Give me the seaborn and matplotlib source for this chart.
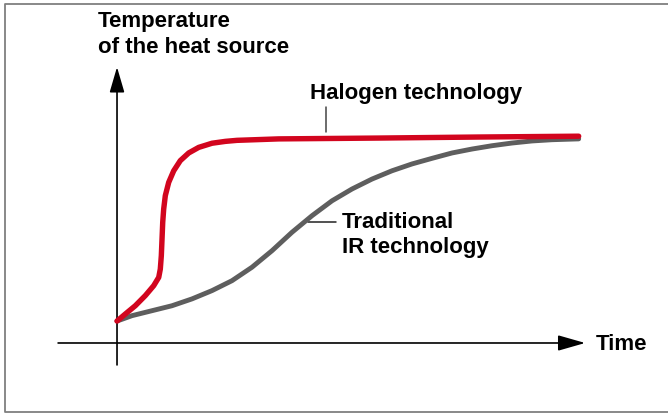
import matplotlib
matplotlib.use("Agg")
import matplotlib.pyplot as plt
from matplotlib.lines import Line2D
import seaborn as sns
import pandas as pd

# ---- data (schematic units: time 0-10, temperature 0-100)
halogen_time = [0, 0.179, 0.394, 0.610, 0.791, 0.899, 0.933, 0.955, 0.970, 0.985,
                1.006, 1.041, 1.114, 1.222, 1.364, 1.545, 1.761, 2.047, 2.334,
                2.586, 3.485, 5.640, 7.795, 9.95]
halogen_temp = [10.6, 14.0, 18.0, 22.9, 27.7, 31.7, 35.7, 42.2, 50.2, 58.3,
                64.7, 71.2, 77.6, 83.2, 88.1, 91.8, 94.5, 96.5, 97.4,
                97.9, 98.6, 99.0, 99.5, 99.9]
ir_time = [0, 0.323, 0.754, 1.185, 1.616, 2.047, 2.478, 2.909, 3.341, 3.772,
           4.203, 4.634, 5.065, 5.496, 5.927, 6.358, 6.789, 7.220, 7.651, 8.082,
           8.513, 8.944, 9.375, 9.950]
ir_temp = [10.6, 13.2, 15.6, 18.0, 21.3, 25.3, 30.1, 36.6, 44.6, 53.5,
           61.5, 68.7, 74.4, 79.2, 83.2, 86.5, 89.2, 91.8, 93.7, 95.3,
           96.6, 97.6, 98.2, 98.6]

y_label_lines = ["Temperature", "of the heat source"]
x_label = "Time"
halogen_label = "Halogen technology"
ir_label_lines = ["Traditional", "IR technology"]

RED = "#d2051e"
GRAY = "#5e5e5e"

sns.set_theme(style="white")
plt.rcParams["font.family"] = ["Liberation Sans", "DejaVu Sans"]

fig = plt.figure(figsize=(6.68, 4.14), dpi=100)
ax = fig.add_axes([0, 0, 1, 1])
ax.set_axis_off()
ax.set_xlim(-2.522, 11.875)
ax.set_ylim(-33.82, 166.18)

df_h = pd.DataFrame({"t": halogen_time, "T": halogen_temp})
df_i = pd.DataFrame({"t": ir_time, "T": ir_temp})

sns.lineplot(data=df_i, x="t", y="T", ax=ax, color=GRAY, lw=3.5, sort=False,
             solid_capstyle="round", solid_joinstyle="round", zorder=3)
sns.lineplot(data=df_h, x="t", y="T", ax=ax, color=RED, lw=3.9, sort=False,
             solid_capstyle="round", solid_joinstyle="round", zorder=4)

# axes arrows
ax.annotate("", xy=(10.09, 0), xytext=(-1.27, 0),
            arrowprops=dict(arrowstyle="-|>,head_length=1.4,head_width=0.4",
                            color="black", lw=1.2, shrinkA=0, shrinkB=0))
ax.annotate("", xy=(0, 133.3), xytext=(0, -10.6),
            arrowprops=dict(arrowstyle="-|>,head_length=1.3,head_width=0.38",
                            color="black", lw=1.2, shrinkA=0, shrinkB=0))

fs = 16
txt = dict(fontsize=fs, fontweight="bold", color="black")
ax.text(-0.41, 152.9, y_label_lines[0], ha="left", va="baseline", **txt)
ax.text(-0.41, 140.4, y_label_lines[1], ha="left", va="baseline", **txt)
ax.text(10.32, -2.9, x_label, ha="left", va="baseline", **txt)
ax.text(4.17, 118.4, halogen_label, ha="left", va="baseline", **txt)
ax.text(4.84, 56.0, ir_label_lines[0], ha="left", va="baseline", **txt)
ax.text(4.84, 44.0, ir_label_lines[1], ha="left", va="baseline", **txt)

# leader lines
ax.plot([4.50, 4.50], [114.0, 101.9], color="#444444", lw=1.1)
ax.plot([4.12, 4.73], [58.6, 58.6], color="#222222", lw=1.1)

# frame around the picture (left, top, bottom)
fig.add_artist(Line2D([1.01, 0.0079, 0.0079, 1.01], [0.9886, 0.9886, 0.0024, 0.0024],
                      transform=fig.transFigure, color="#7f7f7f", lw=1.3))

fig.savefig("out.png", dpi=100)
